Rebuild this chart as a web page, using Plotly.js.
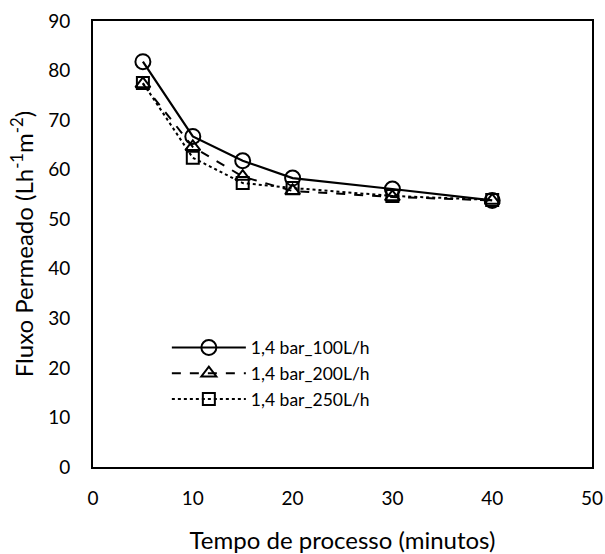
<!DOCTYPE html>
<html>
<head>
<meta charset="utf-8">
<script src="https://cdn.plot.ly/plotly-3.0.1.min.js"></script>
<style>html,body{margin:0;padding:0;background:#fff;}#chart{width:605px;height:554px;}</style>
</head>
<body>
<div id="chart"></div>
<script>
const tempo = [5, 10, 15, 20, 30, 40];
const fluxo100 = [81.8, 66.7, 61.8, 58.3, 56.1, 53.8];
const fluxo200 = [77.3, 64.6, 58.6, 55.7, 54.5, 53.8];
const fluxo250 = [77.5, 62.4, 57.3, 56.3, 54.7, 53.9];
const nomes = ["1,4 bar_100L/h", "1,4 bar_200L/h", "1,4 bar_250L/h"];
const xTicks = [0, 10, 20, 30, 40, 50];
const yTicks = [0, 10, 20, 30, 40, 50, 60, 70, 80, 90];

const font = "Lato, 'Open Sans', sans-serif";
const traces = [
  {x: tempo, y: fluxo100, name: nomes[0], mode: "lines+markers",
   line: {color: "#000", width: 2.2, dash: "solid"},
   marker: {symbol: "circle-open", size: 15, color: "#000", line: {width: 2, color: "#000"}}},
  {x: tempo, y: fluxo200, name: nomes[1], mode: "lines+markers",
   line: {color: "#000", width: 2, dash: "dash"},
   marker: {symbol: "triangle-up-open", size: 13, color: "#000", line: {width: 2, color: "#000"}}},
  {x: tempo, y: fluxo250, name: nomes[2], mode: "lines+markers",
   line: {color: "#000", width: 2, dash: "dot"},
   marker: {symbol: "square-open", size: 12, color: "#000", line: {width: 2, color: "#000"}}}
];
const layout = {
  width: 605, height: 554,
  margin: {l: 93, r: 13, t: 21, b: 87},
  paper_bgcolor: "#fff", plot_bgcolor: "#fff",
  font: {family: font, size: 18, color: "#000"},
  showlegend: true,
  legend: {x: 0.148, y: 0.308, xanchor: "left", yanchor: "top",
           bgcolor: "rgba(0,0,0,0)", font: {family: font, size: 17.5, color: "#000"},
           itemwidth: 74, tracegroupgap: 0},
  xaxis: {range: [0, 50], tickvals: xTicks, ticktext: xTicks.map(String),
          showgrid: false, zeroline: false, showline: true, linecolor: "#000", linewidth: 2,
          mirror: true, ticks: "", ticklen: 0, ticklabelstandoff: 13, automargin: false,
          tickfont: {family: font, size: 19, color: "#000"},
          title: {text: "Tempo de processo (minutos)", font: {family: font, size: 24, color: "#000"}, standoff: 24}},
  yaxis: {range: [0, 90], tickvals: yTicks, ticktext: yTicks.map(String),
          showgrid: false, zeroline: false, showline: true, linecolor: "#000", linewidth: 2,
          mirror: true, ticks: "", ticklen: 0, ticklabelstandoff: 17, automargin: false,
          tickfont: {family: font, size: 19, color: "#000"},
          title: {text: "Fluxo Permeado (Lh<sup>-1</sup>m<sup>-2</sup>)", font: {family: font, size: 24, color: "#000"}, standoff: 8}}
};
Plotly.newPlot("chart", traces, layout, {displayModeBar: false, staticPlot: true});
</script>
</body>
</html>
